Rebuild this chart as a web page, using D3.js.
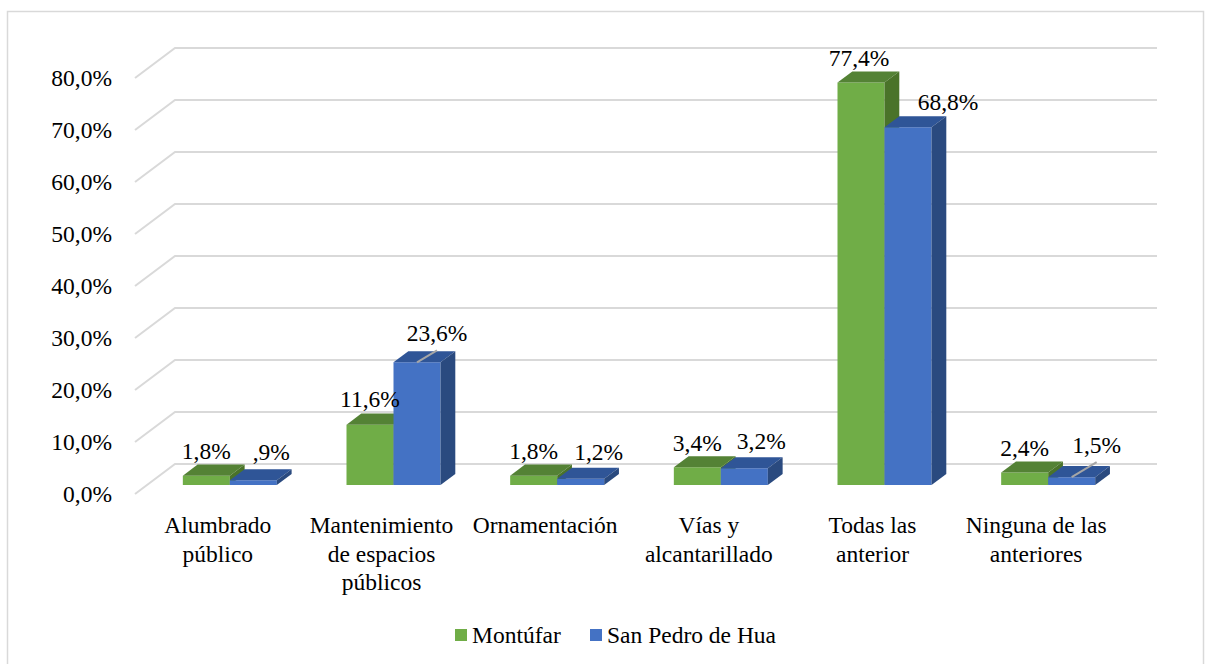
<!DOCTYPE html>
<html>
<head>
<meta charset="utf-8">
<script src="https://cdn.jsdelivr.net/npm/d3@7"></script>
<style>
  html, body { margin: 0; padding: 0; background: #ffffff; }
  svg { display: block; }
</style>
</head>
<body>
<svg id="fig" width="1205" height="664"></svg>
<script>
// ---- data ----
const categories = [
  ["Alumbrado", "público"],
  ["Mantenimiento", "de espacios", "públicos"],
  ["Ornamentación"],
  ["Vías y", "alcantarillado"],
  ["Todas las", "anterior"],
  ["Ninguna de las", "anteriores"]
];
const seriesNames = ["Montúfar", "San Pedro de Hua"];
const montufar = [1.8, 11.6, 1.8, 3.4, 77.4, 2.4];
const sanPedro = [0.9, 23.6, 1.2, 3.2, 68.8, 1.5];
const yTicks = [0, 10, 20, 30, 40, 50, 60, 70, 80];

// ---- layout / style (not data) ----
const FONT = 23.5;
const FF = '"Liberation Serif", "Times New Roman", Tinos, serif';
const depth = { dx: 40, dy: -30 };
const barZ0 = 0.3, barZ1 = 0.67;
const barW = 47;
const colors = [
  { front: "#70ad47", top: "#548235", side: "#4a7329" },
  { front: "#4472c4", top: "#2f5597", side: "#2a4a7f" }
];
const labelOffsets = [
  [[0, -24], [0, -25], [0, -24], [0, -24], [-2, -24], [0, -24]],
  [[18, -28], [20, -29], [18, -26], [17, -27], [40, -25], [25, -32]]
];
const leaders = [[false, false, false, false, false, false],
                 [false, true, false, false, false, true]];

const svg = d3.select("#fig");
const catIdx = d3.range(categories.length);

const x = d3.scaleBand().domain(catIdx).range([135, 1117]).padding(0);
const y = d3.scaleLinear().domain([0, 80]).range([494, 78]);

function P(px, v, z) { return [px + depth.dx * z, y(v) + depth.dy * z]; }
function styleText(sel) {
  return sel.attr("font-family", FF)
            .style("font-family", FF)
            .style("font-size", FONT + "px")
            .attr("fill", "#000");
}

svg.append("rect")
  .attr("x", 7.5).attr("y", 11.5).attr("width", 1196).attr("height", 662)
  .attr("fill", "none").attr("stroke", "#d9d9d9").attr("stroke-width", 1.5);

const grid = svg.append("g");
yTicks.forEach(t => {
  const a = P(135, t, 0), b = P(135, t, 1), c = P(1117, t, 1);
  grid.append("polyline")
    .attr("points", [a, b, c].map(p => p.join(",")).join(" "))
    .attr("fill", "none").attr("stroke", "#d9d9d9").attr("stroke-width", 2);
});

svg.append("g").selectAll("text").data(yTicks).join("text")
  .attr("x", 112).attr("y", d => y(d) + 7.5)
  .attr("text-anchor", "end")
  .call(styleText)
  .text(d => d.toFixed(1).replace(".", ",") + "%");

const series = [montufar, sanPedro];
const barsG = svg.append("g");
function fmt(v) {
  let s = v.toFixed(1).replace(".", ",");
  if (s.startsWith("0,")) s = s.slice(1);
  return s + "%";
}
const labelData = [];
catIdx.forEach(i => {
  const cx = x(i) + x.bandwidth() / 2 + 1;
  series.forEach((vals, s) => {
    const v = vals[i];
    const x0 = cx - barW + s * barW, x1 = x0 + barW;
    const fbl = P(x0, 0, barZ0), fbr = P(x1, 0, barZ0);
    const ftl = P(x0, v, barZ0), ftr = P(x1, v, barZ0);
    const btl = P(x0, v, barZ1), btr = P(x1, v, barZ1);
    const bbr = P(x1, 0, barZ1);
    const poly = pts => pts.map(p => p.join(",")).join(" ");
    barsG.append("polygon").attr("points", poly([fbl, fbr, ftr, ftl])).attr("fill", colors[s].front);
    barsG.append("polygon").attr("points", poly([ftl, ftr, btr, btl])).attr("fill", colors[s].top);
    barsG.append("polygon").attr("points", poly([fbr, bbr, btr, ftr])).attr("fill", colors[s].side);
    const topC = P((x0 + x1) / 2, v, barZ0);
    const off = labelOffsets[s][i];
    labelData.push({ v, lx: topC[0] + off[0], ly: topC[1] + off[1], topC, leader: leaders[s][i] });
  });
});

svg.append("g").selectAll("line").data(labelData.filter(d => d.leader)).join("line")
  .attr("x1", d => d.topC[0]).attr("y1", d => d.topC[1])
  .attr("x2", d => d.lx).attr("y2", d => d.ly + 17)
  .attr("stroke", "#a6a6a6").attr("stroke-width", 2);

svg.append("g").selectAll("text").data(labelData).join("text")
  .attr("x", d => d.lx).attr("y", d => d.ly + 7.5)
  .attr("text-anchor", "middle")
  .call(styleText)
  .text(d => fmt(d.v));

const catG = svg.append("g");
catIdx.forEach(i => {
  const cxl = x(i) + x.bandwidth() / 2 + 1;
  const t = catG.append("text")
    .attr("x", cxl).attr("y", 533)
    .attr("text-anchor", "middle")
    .call(styleText);
  categories[i].forEach((line, k) => {
    t.append("tspan").attr("x", cxl).attr("y", 533 + k * 28.5).text(line);
  });
});

const legend = svg.append("g");
const legendX = [455, 590];
seriesNames.forEach((name, s) => {
  legend.append("rect").attr("x", legendX[s]).attr("y", 629)
    .attr("width", 12).attr("height", 12).attr("fill", colors[s].front);
  legend.append("text").attr("x", legendX[s] + 17).attr("y", 643)
    .call(styleText).text(name);
});
</script>
</body>
</html>
